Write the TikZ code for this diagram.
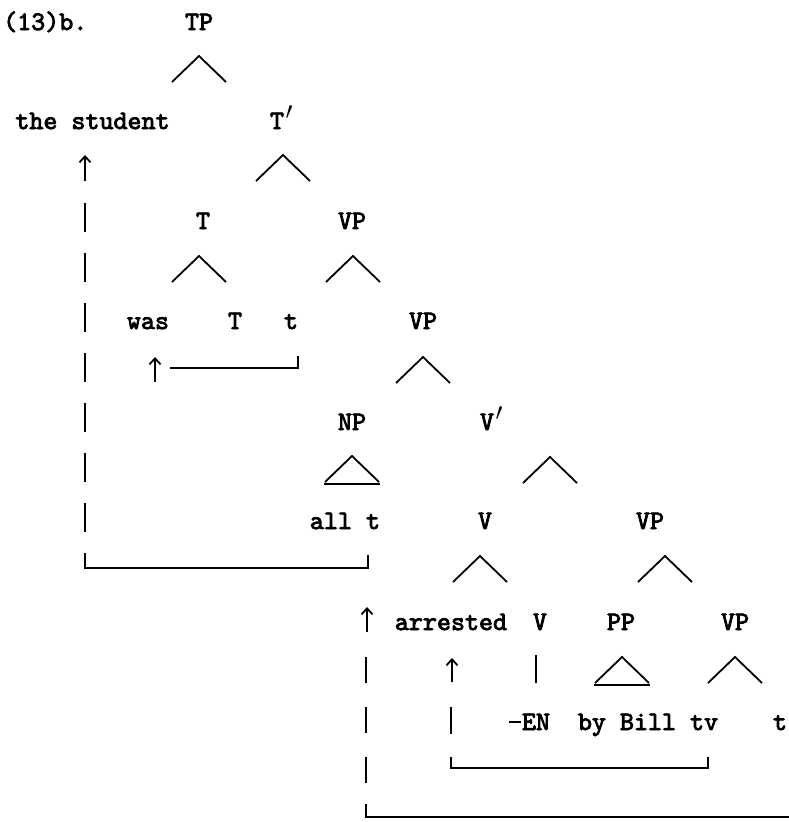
\documentclass[tikz,border=0pt]{standalone}
\usepackage{fontspec}
\usetikzlibrary{arrows.meta}
\newfontfamily\dgfam{lmmono10-regular.otf}[FakeBold=3]
\newcommand\dgfont{\dgfam\fontsize{26.7}{30}\selectfont}
\newcommand\longdash{\makebox[14pt]{\rule[7.5pt]{12pt}{2pt}}}
\newcommand\pr{\rlap{\kern1.5pt{\fontsize{34}{34}\selectfont$\mathbf{'}$}}}
\tikzset{
  lbl/.style={font=\dgfont, inner sep=0pt, anchor=base},
  tree/.style={line width=1.8pt},
  mv/.style={line width=1.8pt},
  uparrow/.style={line width=1.8pt, -{Straight Barb[length=6pt,width=11pt]}},
  wedge/.pic={\draw[tree] (-27,26) -- (0,0) -- (27,26);},
  tri/.pic={\draw[tree] (-27,26) -- (0,0) -- (27,26); \draw[tree] (-28,28) -- (28,28);}
}
\begin{document}
\begin{tikzpicture}[x=1pt,y=-1pt]
\useasboundingbox (0,0) rectangle (788,822);
% labels
\node[lbl,anchor=base west] (ex) at (3,30) {(13)b.};
\node[lbl] (TP) at (199,30) {TP};
\node[lbl] (subj) at (92.5,129) {the student};
\node[lbl] (Tbar) at (277,129) {T\pr};
\node[lbl] (T2) at (203,229) {T};
\node[lbl] (VP1) at (352,229) {VP};
\node[lbl] (was) at (148,329) {was};
\node[lbl] (T3) at (235,329) {T};
\node[lbl] (t3) at (291,329) {t};
\node[lbl] (VP2) at (423,329) {VP};
\node[lbl] (NP) at (352,430) {NP};
\node[lbl] (Vbar) at (487,430) {V\pr};
\node[lbl] (allt) at (345,529) {all t};
\node[lbl] (V5) at (485,529) {V};
\node[lbl] (VP3) at (650,529) {VP};
\node[lbl] (arr) at (451,630) {arrested};
\node[lbl] (V6) at (540,630) {V};
\node[lbl] (PP) at (621,630) {PP};
\node[lbl] (VP4) at (735,630) {VP};
\node[lbl] (EN) at (529,730) {\longdash EN};
\node[lbl] (bill) at (648,730) {by Bill tv};
\node[lbl] (t7) at (780,730) {t};
% branches
\pic at (199,56) {wedge};
\pic at (283,155) {wedge};
\pic at (199,256) {wedge};
\pic at (353,256) {wedge};
\pic at (423,357) {wedge};
\pic at (352,456) {tri};
\pic at (550,457) {wedge};
\pic at (480,556) {wedge};
\pic at (665,556) {wedge};
\pic at (622,657) {tri};
\pic at (735,657) {wedge};
\coordinate (Vl1) at (536,655);
\coordinate (Vl2) at (536,683);
\draw[tree] (Vl1) -- (Vl2);
% movement: all t -> the student
\coordinate (m1a) at (368,555);
\coordinate (m1b) at (85,568);
\coordinate (m1c) at (85,553);
\draw[mv] (m1a) |- (m1b) -- (m1c);
\coordinate (m1d) at (85,532);
\coordinate (m1e) at (85,203);
\draw[mv, dash pattern=on 29pt off 21pt] (m1e) -- (m1d);
\coordinate (m1f) at (85,181);
\coordinate (m1g) at (85,155);
\draw[uparrow] (m1f) -- (m1g);
% movement: T -> was
\coordinate (m2a) at (155,382);
\coordinate (m2b) at (155,357);
\draw[uparrow] (m2a) -- (m2b);
\coordinate (m2c) at (170,368);
\coordinate (m2d) at (298,356);
\draw[mv] (m2c) -| (m2d);
% movement: tv -> arrested (inner)
\coordinate (m3a) at (452,682);
\coordinate (m3b) at (452,658);
\draw[uparrow] (m3a) -- (m3b);
\coordinate (m3c) at (451,707);
\coordinate (m3d) at (451,734);
\draw[mv] (m3c) -- (m3d);
\coordinate (m3e) at (708,757);
\coordinate (m3f) at (451,768);
\coordinate (m3g) at (451,757);
\draw[mv] (m3e) |- (m3f) -- (m3g);
% movement: t -> V (outer)
\coordinate (m4a) at (367,632);
\coordinate (m4b) at (367,607);
\draw[uparrow] (m4a) -- (m4b);
\coordinate (m4c) at (366,657);
\coordinate (m4d) at (366,783);
\draw[mv, dash pattern=on 26pt off 24pt] (m4c) -- (m4d);
\coordinate (m4e) at (366,804);
\coordinate (m4f) at (366,817);
\coordinate (m4g) at (790,817);
\draw[mv] (m4e) -- (m4f) -- (m4g);
\end{tikzpicture}
\end{document}
